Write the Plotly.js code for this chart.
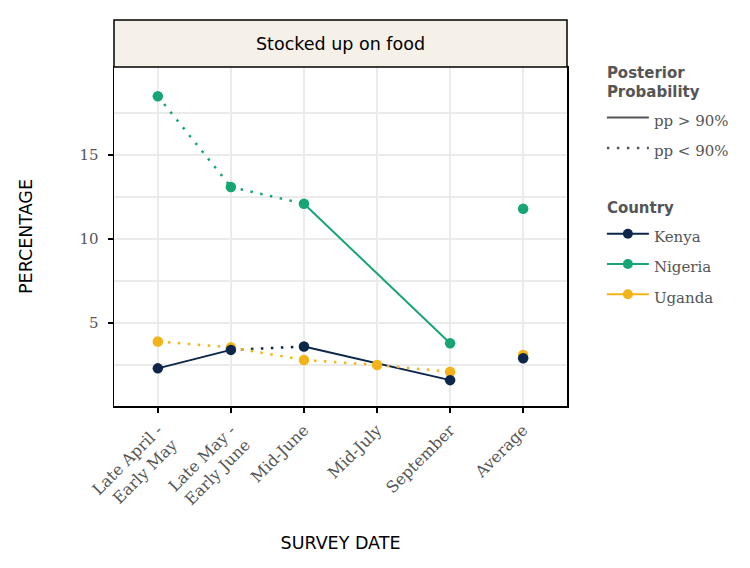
<!DOCTYPE html>
<html>
<head>
<meta charset="utf-8">
<script src="https://cdn.plot.ly/plotly-3.0.1.min.js"></script>
<style>html,body{margin:0;padding:0;background:#fff;}#chart{width:750px;height:568px;}</style>
</head>
<body>
<div id="chart"></div>
<script>
// ---- data ----
const categories = ["Late April -<br>Early May", "Late May -<br>Early June", "Mid-June", "Mid-July", "September", "Average"];
const surveyDates = categories.slice(0, 5);
const countries = ["Kenya", "Nigeria", "Uganda"];
const kenyaValues   = [2.3, 3.4, 3.6, null, 1.6];
const nigeriaValues = [18.5, 13.1, 12.1, null, 3.8];
const ugandaValues  = [3.9, 3.55, 2.8, 2.5, 2.1];
const kenyaAverage = 2.9;
const nigeriaAverage = 11.8;
const ugandaAverage = 3.1;
// significance (pp > 90%) of each segment between consecutive observed dates
const kenyaSegmentSig   = [true, false, true];
const nigeriaSegmentSig = [false, false, true];
const ugandaSegmentSig  = [false, false, false, false];
const ppLabels = ["pp > 90%", "pp < 90%"];

// ---- styles ----
const colors = {Kenya: "#0c2749", Nigeria: "#17a673", Uganda: "#f2b418"};
const DOT = "2.5px,7.5px";
const serif = "DejaVu Serif, serif";
const sans = "DejaVu Sans, sans-serif";

const series = {
  Kenya:   {vals: kenyaValues,   sig: kenyaSegmentSig,   avg: kenyaAverage},
  Nigeria: {vals: nigeriaValues, sig: nigeriaSegmentSig, avg: nigeriaAverage},
  Uganda:  {vals: ugandaValues,  sig: ugandaSegmentSig,  avg: ugandaAverage}
};

const traces = [];
// segment lines
countries.forEach(c => {
  const s = series[c];
  const idx = [];
  s.vals.forEach((v, i) => { if (v !== null) idx.push(i); });
  for (let k = 0; k < idx.length - 1; k++) {
    const a = idx[k], b = idx[k + 1];
    traces.push({
      type: "scatter", mode: "lines",
      x: [surveyDates[a], surveyDates[b]], y: [s.vals[a], s.vals[b]],
      line: {color: colors[c], width: s.sig[k] ? 2 : 2.5, dash: s.sig[k] ? "solid" : DOT},
      showlegend: false, hoverinfo: "skip"
    });
  }
});
// points (Uganda, Nigeria, Kenya on top)
["Uganda", "Nigeria", "Kenya"].forEach(c => {
  const s = series[c];
  traces.push({
    type: "scatter", mode: "markers",
    x: surveyDates.concat(["Average"]), y: s.vals.concat([s.avg]),
    marker: {color: colors[c], size: 10.5},
    showlegend: false, hoverinfo: "skip"
  });
});
const legName = t => "<span style='font-size:15px'>" + t + "</span>";
// legend: posterior probability
ppLabels.forEach((lab, i) => {
  traces.push({
    type: "scatter", mode: "lines", x: [null], y: [null],
    name: legName(lab), legendgroup: "pp", legendrank: 1 + i,
    legendgrouptitle: {text: "Posterior<br>Probability", font: {family: sans, size: 15, color: "#555", weight: "bold"}},
    line: {color: "#555", width: i === 0 ? 2 : 2.5, dash: i === 0 ? "solid" : DOT},
    showlegend: true
  });
});
// legend: country
countries.forEach((c, i) => {
  traces.push({
    type: "scatter", mode: "lines+markers", x: [null], y: [null],
    name: legName(c), legendgroup: "country", legendrank: 10 + i,
    legendgrouptitle: {text: "Country", font: {family: sans, size: 15, color: "#555", weight: "bold"}},
    line: {color: colors[c], width: 2}, marker: {color: colors[c], size: 10},
    showlegend: true
  });
});

const stripH = 47 / 339;
const layout = {
  width: 750, height: 568,
  margin: {l: 114, r: 183, t: 67, b: 162},
  paper_bgcolor: "#fff", plot_bgcolor: "#fff",
  showlegend: true,
  legend: {
    x: 1.077, y: 1.034, xanchor: "left", yanchor: "top",
    traceorder: "grouped", tracegroupgap: 33, itemwidth: 42,
    font: {family: serif, size: 21, color: "#555"},
    bgcolor: "rgba(0,0,0,0)"
  },
  xaxis: {
    type: "category", categoryorder: "array", categoryarray: categories,
    range: [-0.6, 5.6],
    showgrid: true, gridcolor: "#ebebeb", gridwidth: 2.5,
    showline: true, linecolor: "#000", linewidth: 1.5, mirror: true,
    ticks: "outside", ticklen: 5, tickwidth: 1.5, tickcolor: "#000",
    tickangle: -45, ticklabelstandoff: 2,
    tickfont: {family: serif, size: 16, color: "#555"},
    zeroline: false, automargin: false,
    title: {text: "SURVEY DATE", font: {family: sans, size: 17.5, color: "#000"}, standoff: 24}
  },
  yaxis: {
    range: [0.06, 20.24],
    tickvals: [5, 10, 15],
    showgrid: true, gridcolor: "#ebebeb", gridwidth: 2.5,
    minor: {tickvals: [2.5, 7.5, 12.5, 17.5], showgrid: true, gridcolor: "#ebebeb", gridwidth: 2.5, ticks: ""},
    showline: true, linecolor: "#000", linewidth: 1.5, mirror: true,
    ticks: "outside", ticklen: 5, tickwidth: 1.5, tickcolor: "#000",
    ticklabelstandoff: 6,
    tickfont: {family: serif, size: 15, color: "#555"},
    zeroline: false, automargin: false,
    title: {text: "PERCENTAGE", font: {family: sans, size: 17.5, color: "#000"}, standoff: 42}
  },
  shapes: [{
    type: "rect", xref: "paper", yref: "paper",
    x0: 0, x1: 1, y0: 1, y1: 1 + stripH,
    fillcolor: "#f5f0e8", line: {color: "#000", width: 1.5}, layer: "above"
  }],
  annotations: [{
    xref: "paper", yref: "paper", x: 0.5, y: 1 + stripH / 2,
    text: "Stocked up on food", showarrow: false,
    font: {family: sans, size: 17.5, color: "#000"}, xanchor: "center", yanchor: "middle"
  }]
};

Plotly.newPlot("chart", traces, layout, {displayModeBar: false, staticPlot: true});
</script>
</body>
</html>
